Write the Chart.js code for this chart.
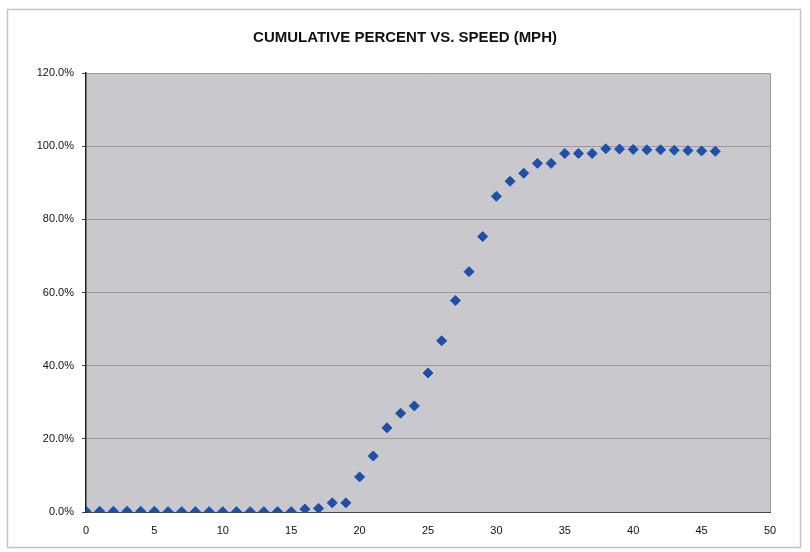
<!DOCTYPE html>
<html>
<head>
<meta charset="utf-8">
<script src="https://cdn.jsdelivr.net/npm/chart.js@4.4.1/dist/chart.umd.min.js"></script>
<style>
  html, body { margin: 0; padding: 0; background: #fff; }
  #wrap { width: 810px; height: 552px; }
</style>
</head>
<body>
<div id="wrap"><canvas id="chart" width="810" height="552"></canvas></div>
<script>
const chartTitle = "CUMULATIVE PERCENT VS. SPEED (MPH)";
const speeds = [0, 1, 2, 3, 4, 5, 6, 7, 8, 9, 10, 11, 12, 13, 14, 15, 16, 17, 18, 19, 20, 21, 22, 23,
  24, 25, 26, 27, 28, 29, 30, 31, 32, 33, 34, 35, 36, 37, 38, 39, 40, 41, 42, 43, 44, 45, 46];
const cumPercent = [0.2, 0.2, 0.2, 0.2, 0.2, 0.2, 0.1, 0.1, 0.1, 0.1, 0.1, 0.1, 0.1, 0.1, 0.1, 0.1, 0.8, 1.0, 2.5, 2.5,
  9.6, 15.3, 23.0, 27.0, 29.0, 38.0, 46.8, 57.8, 65.7, 75.3, 86.3, 90.4, 92.6, 95.3, 95.3,
  98.0, 98.0, 98.0, 99.3, 99.2, 99.1, 99.0, 99.0, 98.9, 98.8, 98.7, 98.6];
const xTicks = { min: 0, max: 50, step: 5 };
const yTicks = { min: 0, max: 120, step: 20 };

const framePlugin = {
  id: "frame",
  beforeDraw(chart) {
    const { ctx, chartArea: a } = chart;
    ctx.save();
    ctx.fillStyle = "#ffffff";
    ctx.fillRect(0, 0, chart.width, chart.height);
    ctx.strokeStyle = "#c4c4c4";
    ctx.lineWidth = 1.5;
    ctx.strokeRect(7.5, 9.5, 793, 538);
    ctx.fillStyle = "#c9c9cd";
    ctx.fillRect(a.left, a.top, a.right - a.left, a.bottom - a.top);
    ctx.restore();
  },
  afterDraw(chart) {
    const { ctx, chartArea: a } = chart;
    ctx.save();
    ctx.strokeStyle = "#9a9a9e";
    ctx.lineWidth = 1;
    ctx.beginPath();
    ctx.moveTo(a.right + 0.5, a.top);
    ctx.lineTo(a.right + 0.5, a.bottom);
    ctx.stroke();
    ctx.restore();
  }
};

const points = speeds.map((s, i) => ({ x: s, y: cumPercent[i] }));

new Chart(document.getElementById("chart"), {
  type: "scatter",
  data: {
    datasets: [{
      label: "Cumulative %",
      data: points,
      pointStyle: "rectRot",
      radius: 5,
      backgroundColor: "#1f4fa8",
      borderColor: "#1f4fa8",
      borderWidth: 1,
    }],
  },
  options: {
    responsive: false,
    animation: false,
    layout: { padding: 0 },
    plugins: {
      legend: { display: false },
      tooltip: { enabled: false },
      title: {
        display: true,
        text: chartTitle,
        color: "#111",
        font: { family: "Arial, 'Liberation Sans', sans-serif", size: 15, weight: "bold" },
        padding: { top: 29, bottom: 26 },
      },
    },
    scales: {
      x: {
        type: "linear",
        min: xTicks.min,
        max: xTicks.max,
        ticks: {
          stepSize: xTicks.step,
          color: "#111",
          font: { family: "Arial, 'Liberation Sans', sans-serif", size: 11 },
          padding: 4,
        },
        grid: { display: false, drawTicks: true },
        border: { color: "#444", width: 1 },
        afterFit(scale) { scale.height = 40; },
      },
      y: {
        min: yTicks.min,
        max: yTicks.max,
        ticks: {
          stepSize: yTicks.step,
          color: "#111",
          font: { family: "Arial, 'Liberation Sans', sans-serif", size: 11 },
          padding: 8,
          callback: (v) => v.toFixed(1) + "%",
        },
        grid: {
          color: "#9a9a9e",
          lineWidth: 1,
          tickLength: 4,
          tickColor: "#444",
        },
        border: { color: "#222", width: 1.5 },
        afterFit(scale) { scale.width = 86; },
      },
      // empty right axis, only there to keep the plot off the right margin
      spacer: {
        position: "right",
        min: yTicks.min,
        max: yTicks.max,
        ticks: { display: false },
        grid: { display: false },
        border: { display: false },
        afterFit(scale) { scale.width = 40; },
      },
    },
  },
  plugins: [framePlugin],
});
</script>
</body>
</html>
